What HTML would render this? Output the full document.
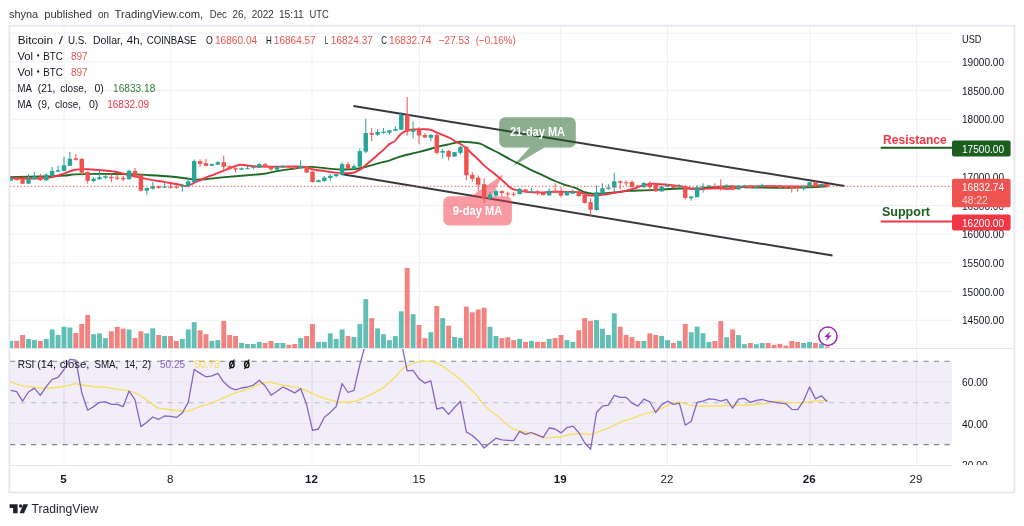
<!DOCTYPE html>
<html><head><meta charset="utf-8"><title>BTCUSD chart</title>
<style>html,body{margin:0;padding:0;background:#fff;}body{width:1024px;height:526px;overflow:hidden;font-family:"Liberation Sans",sans-serif;}</style>
</head><body>
<svg width="1024" height="526" viewBox="0 0 1024 526" font-family="Liberation Sans, sans-serif" style="display:block;will-change:transform">
<rect x="0" y="0" width="1024" height="526" fill="#ffffff"/>
<line x1="64" y1="26" x2="64" y2="465" stroke="#eef0f5" stroke-width="1"/>
<line x1="170.75" y1="26" x2="170.75" y2="465" stroke="#eef0f5" stroke-width="1"/>
<line x1="312" y1="26" x2="312" y2="465" stroke="#eef0f5" stroke-width="1"/>
<line x1="419.5" y1="26" x2="419.5" y2="465" stroke="#eef0f5" stroke-width="1"/>
<line x1="560.75" y1="26" x2="560.75" y2="465" stroke="#eef0f5" stroke-width="1"/>
<line x1="667.5" y1="26" x2="667.5" y2="465" stroke="#eef0f5" stroke-width="1"/>
<line x1="809.75" y1="26" x2="809.75" y2="465" stroke="#eef0f5" stroke-width="1"/>
<line x1="916.5" y1="26" x2="916.5" y2="465" stroke="#eef0f5" stroke-width="1"/>
<line x1="10" y1="320.2" x2="952" y2="320.2" stroke="#eef0f5" stroke-width="1"/>
<line x1="10" y1="291.5" x2="952" y2="291.5" stroke="#eef0f5" stroke-width="1"/>
<line x1="10" y1="262.8" x2="952" y2="262.8" stroke="#eef0f5" stroke-width="1"/>
<line x1="10" y1="234.1" x2="952" y2="234.1" stroke="#eef0f5" stroke-width="1"/>
<line x1="10" y1="205.4" x2="952" y2="205.4" stroke="#eef0f5" stroke-width="1"/>
<line x1="10" y1="176.7" x2="952" y2="176.7" stroke="#eef0f5" stroke-width="1"/>
<line x1="10" y1="148.0" x2="952" y2="148.0" stroke="#eef0f5" stroke-width="1"/>
<line x1="10" y1="119.3" x2="952" y2="119.3" stroke="#eef0f5" stroke-width="1"/>
<line x1="10" y1="90.6" x2="952" y2="90.6" stroke="#eef0f5" stroke-width="1"/>
<line x1="10" y1="61.9" x2="952" y2="61.9" stroke="#eef0f5" stroke-width="1"/>
<line x1="10" y1="33.2" x2="952" y2="33.2" stroke="#eef0f5" stroke-width="1"/>
<rect x="10" y="361.3" width="942" height="83.3" fill="#7e57c2" fill-opacity="0.1"/>
<line x1="10" y1="382.1" x2="952" y2="382.1" stroke="#e6e4f0" stroke-width="1"/>
<line x1="10" y1="423.5" x2="952" y2="423.5" stroke="#e6e4f0" stroke-width="1"/>
<line x1="64" y1="361.3" x2="64" y2="444.6" stroke="#e2e0ee" stroke-width="1"/>
<line x1="170.75" y1="361.3" x2="170.75" y2="444.6" stroke="#e2e0ee" stroke-width="1"/>
<line x1="312" y1="361.3" x2="312" y2="444.6" stroke="#e2e0ee" stroke-width="1"/>
<line x1="419.5" y1="361.3" x2="419.5" y2="444.6" stroke="#e2e0ee" stroke-width="1"/>
<line x1="560.75" y1="361.3" x2="560.75" y2="444.6" stroke="#e2e0ee" stroke-width="1"/>
<line x1="667.5" y1="361.3" x2="667.5" y2="444.6" stroke="#e2e0ee" stroke-width="1"/>
<line x1="809.75" y1="361.3" x2="809.75" y2="444.6" stroke="#e2e0ee" stroke-width="1"/>
<line x1="916.5" y1="361.3" x2="916.5" y2="444.6" stroke="#e2e0ee" stroke-width="1"/>
<line x1="10" y1="361.3" x2="952" y2="361.3" stroke="#82858f" stroke-width="1.1" stroke-dasharray="5.2,5.3"/>
<line x1="10" y1="402.8" x2="952" y2="402.8" stroke="#b9bcc5" stroke-width="1.1" stroke-dasharray="5.2,5.3"/>
<line x1="10" y1="444.6" x2="952" y2="444.6" stroke="#82858f" stroke-width="1.1" stroke-dasharray="5.2,5.3"/>
<clipPath id="cm"><rect x="10" y="26" width="942" height="322.5"/></clipPath>
<clipPath id="cr"><rect x="10" y="349" width="942" height="116.5"/></clipPath>
<g clip-path="url(#cm)">
<rect x="8.30" y="340.9" width="4.9" height="7.4" fill="#26a69a" fill-opacity="0.72"/>
<rect x="14.21" y="340.9" width="4.9" height="7.4" fill="#ef5350" fill-opacity="0.72"/>
<rect x="20.13" y="335" width="4.9" height="13.3" fill="#ef5350" fill-opacity="0.72"/>
<rect x="26.05" y="338.9" width="4.9" height="9.4" fill="#26a69a" fill-opacity="0.72"/>
<rect x="31.96" y="340.1" width="4.9" height="8.2" fill="#26a69a" fill-opacity="0.72"/>
<rect x="37.88" y="340.9" width="4.9" height="7.4" fill="#ef5350" fill-opacity="0.72"/>
<rect x="43.80" y="338.9" width="4.9" height="9.4" fill="#26a69a" fill-opacity="0.72"/>
<rect x="49.72" y="329.5" width="4.9" height="18.8" fill="#26a69a" fill-opacity="0.72"/>
<rect x="55.63" y="335" width="4.9" height="13.3" fill="#26a69a" fill-opacity="0.72"/>
<rect x="61.55" y="326.8" width="4.9" height="21.5" fill="#26a69a" fill-opacity="0.72"/>
<rect x="67.47" y="327.5" width="4.9" height="20.8" fill="#26a69a" fill-opacity="0.72"/>
<rect x="73.38" y="333" width="4.9" height="15.3" fill="#ef5350" fill-opacity="0.72"/>
<rect x="79.30" y="324" width="4.9" height="24.3" fill="#ef5350" fill-opacity="0.72"/>
<rect x="85.22" y="315" width="4.9" height="33.3" fill="#ef5350" fill-opacity="0.72"/>
<rect x="91.14" y="334.2" width="4.9" height="14.1" fill="#26a69a" fill-opacity="0.72"/>
<rect x="97.05" y="333.4" width="4.9" height="14.9" fill="#26a69a" fill-opacity="0.72"/>
<rect x="102.97" y="338.1" width="4.9" height="10.2" fill="#26a69a" fill-opacity="0.72"/>
<rect x="108.89" y="331.3" width="4.9" height="17.0" fill="#ef5350" fill-opacity="0.72"/>
<rect x="114.80" y="326.8" width="4.9" height="21.5" fill="#ef5350" fill-opacity="0.72"/>
<rect x="120.72" y="328.7" width="4.9" height="19.6" fill="#ef5350" fill-opacity="0.72"/>
<rect x="126.64" y="329.5" width="4.9" height="18.8" fill="#26a69a" fill-opacity="0.72"/>
<rect x="132.55" y="338.1" width="4.9" height="10.2" fill="#ef5350" fill-opacity="0.72"/>
<rect x="138.47" y="331.3" width="4.9" height="17.0" fill="#ef5350" fill-opacity="0.72"/>
<rect x="144.39" y="333.4" width="4.9" height="14.9" fill="#26a69a" fill-opacity="0.72"/>
<rect x="150.31" y="328.3" width="4.9" height="20.0" fill="#26a69a" fill-opacity="0.72"/>
<rect x="156.22" y="335" width="4.9" height="13.3" fill="#ef5350" fill-opacity="0.72"/>
<rect x="162.14" y="336" width="4.9" height="12.3" fill="#26a69a" fill-opacity="0.72"/>
<rect x="168.06" y="336" width="4.9" height="12.3" fill="#ef5350" fill-opacity="0.72"/>
<rect x="173.97" y="340.9" width="4.9" height="7.4" fill="#ef5350" fill-opacity="0.72"/>
<rect x="179.89" y="338.9" width="4.9" height="9.4" fill="#26a69a" fill-opacity="0.72"/>
<rect x="185.81" y="329.5" width="4.9" height="18.8" fill="#26a69a" fill-opacity="0.72"/>
<rect x="191.72" y="322.1" width="4.9" height="26.2" fill="#26a69a" fill-opacity="0.72"/>
<rect x="197.64" y="330.3" width="4.9" height="18.0" fill="#ef5350" fill-opacity="0.72"/>
<rect x="203.56" y="334.2" width="4.9" height="14.1" fill="#ef5350" fill-opacity="0.72"/>
<rect x="209.47" y="340.9" width="4.9" height="7.4" fill="#26a69a" fill-opacity="0.72"/>
<rect x="215.39" y="340.1" width="4.9" height="8.2" fill="#26a69a" fill-opacity="0.72"/>
<rect x="221.31" y="320.9" width="4.9" height="27.4" fill="#ef5350" fill-opacity="0.72"/>
<rect x="227.23" y="335" width="4.9" height="13.3" fill="#ef5350" fill-opacity="0.72"/>
<rect x="233.14" y="336" width="4.9" height="12.3" fill="#ef5350" fill-opacity="0.72"/>
<rect x="239.06" y="343" width="4.9" height="5.3" fill="#26a69a" fill-opacity="0.72"/>
<rect x="244.98" y="344" width="4.9" height="4.3" fill="#26a69a" fill-opacity="0.72"/>
<rect x="250.89" y="344" width="4.9" height="4.3" fill="#26a69a" fill-opacity="0.72"/>
<rect x="256.81" y="341.9" width="4.9" height="6.4" fill="#26a69a" fill-opacity="0.72"/>
<rect x="262.73" y="343" width="4.9" height="5.3" fill="#ef5350" fill-opacity="0.72"/>
<rect x="268.65" y="340.9" width="4.9" height="7.4" fill="#ef5350" fill-opacity="0.72"/>
<rect x="274.56" y="343" width="4.9" height="5.3" fill="#26a69a" fill-opacity="0.72"/>
<rect x="280.48" y="343" width="4.9" height="5.3" fill="#26a69a" fill-opacity="0.72"/>
<rect x="286.40" y="344.8" width="4.9" height="3.5" fill="#ef5350" fill-opacity="0.72"/>
<rect x="292.31" y="344" width="4.9" height="4.3" fill="#ef5350" fill-opacity="0.72"/>
<rect x="298.23" y="338.1" width="4.9" height="10.2" fill="#26a69a" fill-opacity="0.72"/>
<rect x="304.15" y="336" width="4.9" height="12.3" fill="#ef5350" fill-opacity="0.72"/>
<rect x="310.06" y="324" width="4.9" height="24.3" fill="#ef5350" fill-opacity="0.72"/>
<rect x="315.98" y="341.9" width="4.9" height="6.4" fill="#26a69a" fill-opacity="0.72"/>
<rect x="321.90" y="341.9" width="4.9" height="6.4" fill="#26a69a" fill-opacity="0.72"/>
<rect x="327.81" y="333.4" width="4.9" height="14.9" fill="#26a69a" fill-opacity="0.72"/>
<rect x="333.73" y="338.9" width="4.9" height="9.4" fill="#26a69a" fill-opacity="0.72"/>
<rect x="339.65" y="329.5" width="4.9" height="18.8" fill="#26a69a" fill-opacity="0.72"/>
<rect x="345.57" y="336" width="4.9" height="12.3" fill="#ef5350" fill-opacity="0.72"/>
<rect x="351.48" y="337.1" width="4.9" height="11.2" fill="#26a69a" fill-opacity="0.72"/>
<rect x="357.40" y="324" width="4.9" height="24.3" fill="#26a69a" fill-opacity="0.72"/>
<rect x="363.32" y="299.1" width="4.9" height="49.2" fill="#26a69a" fill-opacity="0.72"/>
<rect x="369.23" y="318.1" width="4.9" height="30.2" fill="#ef5350" fill-opacity="0.72"/>
<rect x="375.15" y="328.4" width="4.9" height="19.9" fill="#26a69a" fill-opacity="0.72"/>
<rect x="381.07" y="334.2" width="4.9" height="14.1" fill="#26a69a" fill-opacity="0.72"/>
<rect x="386.99" y="340.2" width="4.9" height="8.1" fill="#26a69a" fill-opacity="0.72"/>
<rect x="392.90" y="336.1" width="4.9" height="12.2" fill="#26a69a" fill-opacity="0.72"/>
<rect x="398.82" y="311.3" width="4.9" height="37.0" fill="#26a69a" fill-opacity="0.72"/>
<rect x="404.74" y="268" width="4.9" height="80.3" fill="#ef5350" fill-opacity="0.72"/>
<rect x="410.65" y="314.2" width="4.9" height="34.1" fill="#26a69a" fill-opacity="0.72"/>
<rect x="416.57" y="325" width="4.9" height="23.3" fill="#ef5350" fill-opacity="0.72"/>
<rect x="422.49" y="338.2" width="4.9" height="10.1" fill="#ef5350" fill-opacity="0.72"/>
<rect x="428.40" y="332.2" width="4.9" height="16.1" fill="#26a69a" fill-opacity="0.72"/>
<rect x="434.32" y="306" width="4.9" height="42.3" fill="#ef5350" fill-opacity="0.72"/>
<rect x="440.24" y="318.1" width="4.9" height="30.2" fill="#26a69a" fill-opacity="0.72"/>
<rect x="446.15" y="325.7" width="4.9" height="22.6" fill="#ef5350" fill-opacity="0.72"/>
<rect x="452.07" y="337" width="4.9" height="11.3" fill="#26a69a" fill-opacity="0.72"/>
<rect x="457.99" y="337.8" width="4.9" height="10.5" fill="#26a69a" fill-opacity="0.72"/>
<rect x="463.91" y="306.7" width="4.9" height="41.6" fill="#ef5350" fill-opacity="0.72"/>
<rect x="469.82" y="312.3" width="4.9" height="36.0" fill="#ef5350" fill-opacity="0.72"/>
<rect x="475.74" y="309.5" width="4.9" height="38.8" fill="#ef5350" fill-opacity="0.72"/>
<rect x="481.66" y="307.7" width="4.9" height="40.6" fill="#ef5350" fill-opacity="0.72"/>
<rect x="487.57" y="326.8" width="4.9" height="21.5" fill="#26a69a" fill-opacity="0.72"/>
<rect x="493.49" y="336" width="4.9" height="12.3" fill="#26a69a" fill-opacity="0.72"/>
<rect x="499.41" y="338.1" width="4.9" height="10.2" fill="#ef5350" fill-opacity="0.72"/>
<rect x="505.32" y="337.2" width="4.9" height="11.1" fill="#ef5350" fill-opacity="0.72"/>
<rect x="511.24" y="340.1" width="4.9" height="8.2" fill="#ef5350" fill-opacity="0.72"/>
<rect x="517.16" y="338.9" width="4.9" height="9.4" fill="#26a69a" fill-opacity="0.72"/>
<rect x="523.08" y="341.9" width="4.9" height="6.4" fill="#ef5350" fill-opacity="0.72"/>
<rect x="528.99" y="340.9" width="4.9" height="7.4" fill="#26a69a" fill-opacity="0.72"/>
<rect x="534.91" y="341.9" width="4.9" height="6.4" fill="#ef5350" fill-opacity="0.72"/>
<rect x="540.83" y="341.9" width="4.9" height="6.4" fill="#ef5350" fill-opacity="0.72"/>
<rect x="546.74" y="338.9" width="4.9" height="9.4" fill="#26a69a" fill-opacity="0.72"/>
<rect x="552.66" y="338.1" width="4.9" height="10.2" fill="#ef5350" fill-opacity="0.72"/>
<rect x="558.58" y="335" width="4.9" height="13.3" fill="#ef5350" fill-opacity="0.72"/>
<rect x="564.49" y="340.1" width="4.9" height="8.2" fill="#26a69a" fill-opacity="0.72"/>
<rect x="570.41" y="341.9" width="4.9" height="6.4" fill="#26a69a" fill-opacity="0.72"/>
<rect x="576.33" y="330.3" width="4.9" height="18.0" fill="#ef5350" fill-opacity="0.72"/>
<rect x="582.25" y="318.1" width="4.9" height="30.2" fill="#ef5350" fill-opacity="0.72"/>
<rect x="588.16" y="320.9" width="4.9" height="27.4" fill="#ef5350" fill-opacity="0.72"/>
<rect x="594.08" y="320.1" width="4.9" height="28.2" fill="#26a69a" fill-opacity="0.72"/>
<rect x="600.00" y="328.7" width="4.9" height="19.6" fill="#26a69a" fill-opacity="0.72"/>
<rect x="605.91" y="335" width="4.9" height="13.3" fill="#26a69a" fill-opacity="0.72"/>
<rect x="611.83" y="313.3" width="4.9" height="35.0" fill="#26a69a" fill-opacity="0.72"/>
<rect x="617.75" y="326.8" width="4.9" height="21.5" fill="#ef5350" fill-opacity="0.72"/>
<rect x="623.66" y="335" width="4.9" height="13.3" fill="#ef5350" fill-opacity="0.72"/>
<rect x="629.58" y="337.2" width="4.9" height="11.1" fill="#ef5350" fill-opacity="0.72"/>
<rect x="635.50" y="340.9" width="4.9" height="7.4" fill="#ef5350" fill-opacity="0.72"/>
<rect x="641.42" y="340.9" width="4.9" height="7.4" fill="#26a69a" fill-opacity="0.72"/>
<rect x="647.33" y="333.4" width="4.9" height="14.9" fill="#ef5350" fill-opacity="0.72"/>
<rect x="653.25" y="335" width="4.9" height="13.3" fill="#ef5350" fill-opacity="0.72"/>
<rect x="659.17" y="336" width="4.9" height="12.3" fill="#26a69a" fill-opacity="0.72"/>
<rect x="665.08" y="340.1" width="4.9" height="8.2" fill="#26a69a" fill-opacity="0.72"/>
<rect x="671.00" y="343" width="4.9" height="5.3" fill="#ef5350" fill-opacity="0.72"/>
<rect x="676.92" y="340.9" width="4.9" height="7.4" fill="#26a69a" fill-opacity="0.72"/>
<rect x="682.83" y="324" width="4.9" height="24.3" fill="#ef5350" fill-opacity="0.72"/>
<rect x="688.75" y="332.2" width="4.9" height="16.1" fill="#26a69a" fill-opacity="0.72"/>
<rect x="694.67" y="326.7" width="4.9" height="21.6" fill="#26a69a" fill-opacity="0.72"/>
<rect x="700.59" y="333.2" width="4.9" height="15.1" fill="#26a69a" fill-opacity="0.72"/>
<rect x="706.50" y="342" width="4.9" height="6.3" fill="#26a69a" fill-opacity="0.72"/>
<rect x="712.42" y="341" width="4.9" height="7.3" fill="#ef5350" fill-opacity="0.72"/>
<rect x="718.34" y="321.1" width="4.9" height="27.2" fill="#ef5350" fill-opacity="0.72"/>
<rect x="724.25" y="337.2" width="4.9" height="11.1" fill="#26a69a" fill-opacity="0.72"/>
<rect x="730.17" y="329.5" width="4.9" height="18.8" fill="#ef5350" fill-opacity="0.72"/>
<rect x="736.09" y="335.1" width="4.9" height="13.2" fill="#26a69a" fill-opacity="0.72"/>
<rect x="742.00" y="344.2" width="4.9" height="4.1" fill="#26a69a" fill-opacity="0.72"/>
<rect x="747.92" y="343" width="4.9" height="5.3" fill="#ef5350" fill-opacity="0.72"/>
<rect x="753.84" y="344.2" width="4.9" height="4.1" fill="#26a69a" fill-opacity="0.72"/>
<rect x="759.76" y="343" width="4.9" height="5.3" fill="#26a69a" fill-opacity="0.72"/>
<rect x="765.67" y="343" width="4.9" height="5.3" fill="#ef5350" fill-opacity="0.72"/>
<rect x="771.59" y="344.9" width="4.9" height="3.4" fill="#ef5350" fill-opacity="0.72"/>
<rect x="777.51" y="343.9" width="4.9" height="4.4" fill="#ef5350" fill-opacity="0.72"/>
<rect x="783.42" y="345.7" width="4.9" height="2.6" fill="#ef5350" fill-opacity="0.72"/>
<rect x="789.34" y="341" width="4.9" height="7.3" fill="#ef5350" fill-opacity="0.72"/>
<rect x="795.26" y="342" width="4.9" height="6.3" fill="#ef5350" fill-opacity="0.72"/>
<rect x="801.17" y="343" width="4.9" height="5.3" fill="#26a69a" fill-opacity="0.72"/>
<rect x="807.09" y="342" width="4.9" height="6.3" fill="#26a69a" fill-opacity="0.72"/>
<rect x="813.01" y="343" width="4.9" height="5.3" fill="#ef5350" fill-opacity="0.72"/>
<rect x="818.93" y="343.9" width="4.9" height="4.4" fill="#26a69a" fill-opacity="0.72"/>
<rect x="824.84" y="346.2" width="4.9" height="2.1" fill="#ef5350" fill-opacity="0.5"/>
<line x1="353.4" y1="106.1" x2="844.5" y2="186" stroke="#38393d" stroke-width="2"/>
<line x1="341" y1="174" x2="832.5" y2="255.5" stroke="#38393d" stroke-width="2"/>
<g fill="#1b5e20" fill-opacity="0.5"><rect x="499.2" y="117.3" width="76.6" height="30.1" rx="6" ry="6"/><path d="M529.8,147.4 L544.4,147.4 L512.5,166.5 Z"/></g>
<g fill="#f23645" fill-opacity="0.5"><rect x="443.3" y="196.3" width="68.6" height="29.3" rx="6" ry="6"/><path d="M471.3,196.3 L491.6,196.3 L503.4,174.3 Z"/></g>
<path d="M10,177.1 C15.00,177.00 31.00,176.75 40,176.5 C49.00,176.25 58.17,175.95 64,175.6 C69.83,175.25 69.00,174.68 75,174.4 C81.00,174.12 90.83,173.93 100,173.9 C109.17,173.87 121.67,173.98 130,174.2 C138.33,174.42 143.33,174.82 150,175.2 C156.67,175.58 164.17,176.00 170,176.5 C175.83,177.00 180.83,177.68 185,178.2 C189.17,178.72 191.67,179.43 195,179.6 C198.33,179.77 200.00,179.62 205,179.2 C210.00,178.78 216.67,177.87 225,177.1 C233.33,176.33 248.33,175.18 255,174.6 C261.67,174.02 260.83,174.27 265,173.6 C269.17,172.93 275.00,171.45 280,170.6 C285.00,169.75 291.67,169.00 295,168.5 C298.33,168.00 297.17,167.87 300,167.6 C302.83,167.33 307.83,166.80 312,166.9 C316.17,167.00 320.33,167.78 325,168.2 C329.67,168.62 335.83,169.20 340,169.4 C344.17,169.60 346.67,169.60 350,169.4 C353.33,169.20 356.67,168.82 360,168.2 C363.33,167.58 366.67,166.58 370,165.7 C373.33,164.82 376.67,163.80 380,162.9 C383.33,162.00 386.67,161.35 390,160.3 C393.33,159.25 395.00,158.03 400,156.6 C405.00,155.17 413.33,153.43 420,151.7 C426.67,149.97 435.00,147.47 440,146.2 C445.00,144.93 446.67,144.83 450,144.1 C453.33,143.37 456.67,142.10 460,141.8 C463.33,141.50 466.67,142.00 470,142.3 C473.33,142.60 476.67,142.53 480,143.6 C483.33,144.67 486.67,147.02 490,148.7 C493.33,150.38 496.45,151.82 500,153.7 C503.55,155.58 507.27,157.88 511.3,160 C515.33,162.12 520.40,164.50 524.2,166.4 C528.00,168.30 530.82,169.83 534.1,171.4 C537.38,172.97 540.42,174.20 543.9,175.8 C547.38,177.40 551.52,179.50 555,181 C558.48,182.50 561.53,183.68 564.8,184.8 C568.07,185.92 571.32,186.47 574.6,187.7 C577.88,188.93 581.53,191.20 584.5,192.2 C587.47,193.20 589.77,193.45 592.4,193.7 C595.03,193.95 596.67,193.90 600.3,193.7 C603.93,193.50 609.42,192.97 614.2,192.5 C618.98,192.03 623.87,191.25 629,190.9 C634.13,190.55 639.87,190.62 645,190.4 C650.13,190.18 654.05,189.92 659.8,189.6 C665.55,189.28 672.92,188.65 679.5,188.5 C686.08,188.35 694.38,188.87 699.3,188.7 C704.22,188.53 705.72,187.83 709,187.5 C712.28,187.17 714.67,186.85 719,186.7 C723.33,186.55 730.50,186.52 735,186.6 C739.50,186.68 741.83,187.03 746,187.2 C750.17,187.37 752.67,187.50 760,187.6 C767.33,187.70 781.67,187.87 790,187.8 C798.33,187.73 803.67,187.43 810,187.2 C816.33,186.97 825.00,186.53 828,186.4" fill="none" stroke="#1f6a25" stroke-width="1.9" stroke-linejoin="round"/>
<path d="M10,178.1 C15.00,178.15 33.00,178.57 40,178.4 C47.00,178.23 48.00,177.88 52,177.1 C56.00,176.32 60.17,174.93 64,173.7 C67.83,172.47 71.17,170.45 75,169.7 C78.83,168.95 82.83,169.13 87,169.2 C91.17,169.27 95.33,169.68 100,170.1 C104.67,170.52 110.83,171.02 115,171.7 C119.17,172.38 121.67,173.40 125,174.2 C128.33,175.00 130.83,175.60 135,176.5 C139.17,177.40 145.00,178.67 150,179.6 C155.00,180.53 160.00,181.23 165,182.1 C170.00,182.97 176.33,184.13 180,184.8 C183.67,185.47 185.00,186.23 187,186.1 C189.00,185.97 190.50,184.68 192,184 C193.50,183.32 193.83,183.00 196,182 C198.17,181.00 201.83,179.32 205,178 C208.17,176.68 211.67,175.42 215,174.1 C218.33,172.78 221.67,171.42 225,170.1 C228.33,168.78 232.33,167.10 235,166.2 C237.67,165.30 238.50,164.75 241,164.7 C243.50,164.65 246.83,165.60 250,165.9 C253.17,166.20 256.67,166.37 260,166.5 C263.33,166.63 264.17,166.70 270,166.7 C275.83,166.70 289.17,166.47 295,166.5 C300.83,166.53 302.17,166.45 305,166.9 C307.83,167.35 308.67,168.50 312,169.2 C315.33,169.90 321.17,170.53 325,171.1 C328.83,171.67 331.67,172.27 335,172.6 C338.33,172.93 342.00,173.07 345,173.1 C348.00,173.13 350.50,173.38 353,172.8 C355.50,172.22 358.00,170.78 360,169.6 C362.00,168.42 362.50,167.75 365,165.7 C367.50,163.65 371.67,160.18 375,157.3 C378.33,154.42 382.58,150.62 385,148.4 C387.42,146.18 387.92,145.17 389.5,144 C391.08,142.83 392.85,142.82 394.5,141.4 C396.15,139.98 397.77,137.12 399.4,135.5 C401.03,133.88 402.65,132.62 404.3,131.7 C405.95,130.78 407.65,130.38 409.3,130 C410.95,129.62 411.73,129.53 414.2,129.4 C416.67,129.27 421.30,129.12 424.1,129.2 C426.90,129.28 428.53,129.20 431,129.9 C433.47,130.60 435.73,132.05 438.9,133.4 C442.07,134.75 447.32,136.68 450,138 C452.68,139.32 453.33,140.33 455,141.3 C456.67,142.27 458.33,142.82 460,143.8 C461.67,144.78 463.33,145.88 465,147.2 C466.67,148.52 467.72,149.57 470,151.7 C472.28,153.83 476.27,157.63 478.7,160 C481.13,162.37 481.97,163.60 484.6,165.9 C487.23,168.20 491.20,171.08 494.5,173.8 C497.80,176.52 501.77,179.88 504.4,182.2 C507.03,184.52 508.65,186.47 510.3,187.7 C511.95,188.93 511.98,188.95 514.3,189.6 C516.62,190.25 520.90,191.13 524.2,191.6 C527.50,192.07 530.82,192.27 534.1,192.4 C537.38,192.53 540.42,192.52 543.9,192.4 C547.38,192.28 551.52,191.78 555,191.7 C558.48,191.62 560.70,191.82 564.8,191.9 C568.90,191.98 575.82,191.67 579.6,192.2 C583.38,192.73 585.03,194.53 587.5,195.1 C589.97,195.67 591.60,195.68 594.4,195.6 C597.20,195.52 601.00,195.08 604.3,194.6 C607.60,194.12 610.90,193.27 614.2,192.7 C617.50,192.13 620.82,191.87 624.1,191.2 C627.38,190.53 631.27,189.53 633.9,188.7 C636.53,187.87 638.05,186.73 639.9,186.2 C641.75,185.67 643.32,185.92 645,185.5 C646.68,185.08 647.53,183.92 650,183.7 C652.47,183.48 656.53,184.00 659.8,184.2 C663.07,184.40 666.32,184.62 669.6,184.9 C672.88,185.18 676.20,185.35 679.5,185.9 C682.80,186.45 686.10,187.65 689.4,188.2 C692.70,188.75 696.03,189.15 699.3,189.2 C702.57,189.25 705.72,188.67 709,188.5 C712.28,188.33 715.67,188.17 719,188.2 C722.33,188.23 725.83,188.77 729,188.7 C732.17,188.63 735.17,188.15 738,187.8 C740.83,187.45 742.33,186.87 746,186.6 C749.67,186.33 752.67,186.23 760,186.2 C767.33,186.17 782.50,186.37 790,186.4 C797.50,186.43 800.83,186.53 805,186.4 C809.17,186.27 811.17,185.80 815,185.6 C818.83,185.40 825.83,185.27 828,185.2" fill="none" stroke="#f23645" stroke-width="1.9" stroke-linejoin="round"/>
<line x1="10.75" y1="177.6" x2="10.75" y2="181" stroke="#26a69a" stroke-width="1"/>
<rect x="8.55" y="178.1" width="4.4" height="2.5" fill="#26a69a"/>
<line x1="16.66" y1="177.8" x2="16.66" y2="180.5" stroke="#ef5350" stroke-width="1"/>
<rect x="14.46" y="178.1" width="4.4" height="2.0" fill="#ef5350"/>
<line x1="22.58" y1="178.8" x2="22.58" y2="184" stroke="#ef5350" stroke-width="1"/>
<rect x="20.38" y="179.1" width="4.4" height="4.6" fill="#ef5350"/>
<line x1="28.50" y1="174.2" x2="28.50" y2="184" stroke="#26a69a" stroke-width="1"/>
<rect x="26.30" y="178.6" width="4.4" height="5.1" fill="#26a69a"/>
<line x1="34.41" y1="171.9" x2="34.41" y2="179.4" stroke="#26a69a" stroke-width="1"/>
<rect x="32.21" y="176.6" width="4.4" height="2.5" fill="#26a69a"/>
<line x1="40.33" y1="173.9" x2="40.33" y2="181.1" stroke="#ef5350" stroke-width="1"/>
<rect x="38.13" y="176.8" width="4.4" height="3.3" fill="#ef5350"/>
<line x1="46.25" y1="173.2" x2="46.25" y2="180.8" stroke="#26a69a" stroke-width="1"/>
<rect x="44.05" y="174.6" width="4.4" height="5.8" fill="#26a69a"/>
<line x1="52.17" y1="166.9" x2="52.17" y2="177.1" stroke="#26a69a" stroke-width="1"/>
<rect x="49.97" y="170.9" width="4.4" height="4.7" fill="#26a69a"/>
<line x1="58.08" y1="165.3" x2="58.08" y2="171.9" stroke="#26a69a" stroke-width="1"/>
<rect x="55.88" y="170.2" width="4.4" height="1.5" fill="#26a69a"/>
<line x1="64.00" y1="156.7" x2="64.00" y2="171.5" stroke="#26a69a" stroke-width="1"/>
<rect x="61.80" y="165.3" width="4.4" height="5.6" fill="#26a69a"/>
<line x1="69.92" y1="151.9" x2="69.92" y2="166" stroke="#26a69a" stroke-width="1"/>
<rect x="67.72" y="158.8" width="4.4" height="7.0" fill="#26a69a"/>
<line x1="75.83" y1="153.9" x2="75.83" y2="160.6" stroke="#ef5350" stroke-width="1"/>
<rect x="73.63" y="158.3" width="4.4" height="1.5" fill="#ef5350"/>
<line x1="81.75" y1="158.3" x2="81.75" y2="175.1" stroke="#ef5350" stroke-width="1"/>
<rect x="79.55" y="158.8" width="4.4" height="13.9" fill="#ef5350"/>
<line x1="87.67" y1="171.5" x2="87.67" y2="183.7" stroke="#ef5350" stroke-width="1"/>
<rect x="85.47" y="171.9" width="4.4" height="8.9" fill="#ef5350"/>
<line x1="93.59" y1="177.1" x2="93.59" y2="182.1" stroke="#26a69a" stroke-width="1"/>
<rect x="91.39" y="178.6" width="4.4" height="2.5" fill="#26a69a"/>
<line x1="99.50" y1="170.9" x2="99.50" y2="179.5" stroke="#26a69a" stroke-width="1"/>
<rect x="97.30" y="177.2" width="4.4" height="2.1" fill="#26a69a"/>
<line x1="105.42" y1="175.2" x2="105.42" y2="179.2" stroke="#26a69a" stroke-width="1"/>
<rect x="103.22" y="176.2" width="4.4" height="1.5" fill="#26a69a"/>
<line x1="111.34" y1="173.7" x2="111.34" y2="182.1" stroke="#ef5350" stroke-width="1"/>
<rect x="109.14" y="176.9" width="4.4" height="1.3" fill="#ef5350"/>
<line x1="117.25" y1="174.7" x2="117.25" y2="180.1" stroke="#ef5350" stroke-width="1"/>
<rect x="115.05" y="177.5" width="4.4" height="1.2" fill="#ef5350"/>
<line x1="123.17" y1="175.9" x2="123.17" y2="181.1" stroke="#ef5350" stroke-width="1"/>
<rect x="120.97" y="177.9" width="4.4" height="1.5" fill="#ef5350"/>
<line x1="129.09" y1="169.8" x2="129.09" y2="179.5" stroke="#26a69a" stroke-width="1"/>
<rect x="126.89" y="170.8" width="4.4" height="8.4" fill="#26a69a"/>
<line x1="135.00" y1="168" x2="135.00" y2="176.2" stroke="#ef5350" stroke-width="1"/>
<rect x="132.80" y="170.9" width="4.4" height="5.0" fill="#ef5350"/>
<line x1="140.92" y1="174.2" x2="140.92" y2="191.5" stroke="#ef5350" stroke-width="1"/>
<rect x="138.72" y="174.7" width="4.4" height="16.0" fill="#ef5350"/>
<line x1="146.84" y1="187.4" x2="146.84" y2="194.7" stroke="#26a69a" stroke-width="1"/>
<rect x="144.64" y="188" width="4.4" height="2.7" fill="#26a69a"/>
<line x1="152.75" y1="182.1" x2="152.75" y2="189.7" stroke="#26a69a" stroke-width="1"/>
<rect x="150.56" y="186.1" width="4.4" height="2.6" fill="#26a69a"/>
<line x1="158.67" y1="185.6" x2="158.67" y2="188.7" stroke="#ef5350" stroke-width="1"/>
<rect x="156.47" y="186.4" width="4.4" height="1.6" fill="#ef5350"/>
<line x1="164.59" y1="182.6" x2="164.59" y2="188" stroke="#26a69a" stroke-width="1"/>
<rect x="162.39" y="186.4" width="4.4" height="1.3" fill="#26a69a"/>
<line x1="170.51" y1="183.6" x2="170.51" y2="188.7" stroke="#ef5350" stroke-width="1"/>
<rect x="168.31" y="186.8" width="4.4" height="1.0" fill="#ef5350"/>
<line x1="176.42" y1="185.1" x2="176.42" y2="188.7" stroke="#ef5350" stroke-width="1"/>
<rect x="174.22" y="186.8" width="4.4" height="1.0" fill="#ef5350"/>
<line x1="182.34" y1="184.6" x2="182.34" y2="191.7" stroke="#26a69a" stroke-width="1"/>
<rect x="180.14" y="185.1" width="4.4" height="1.7" fill="#26a69a"/>
<line x1="188.26" y1="178.2" x2="188.26" y2="187.7" stroke="#26a69a" stroke-width="1"/>
<rect x="186.06" y="181.4" width="4.4" height="4.7" fill="#26a69a"/>
<line x1="194.17" y1="159.4" x2="194.17" y2="182.4" stroke="#26a69a" stroke-width="1"/>
<rect x="191.97" y="161.1" width="4.4" height="21.0" fill="#26a69a"/>
<line x1="200.09" y1="159.3" x2="200.09" y2="166.7" stroke="#ef5350" stroke-width="1"/>
<rect x="197.89" y="161.2" width="4.4" height="2.7" fill="#ef5350"/>
<line x1="206.01" y1="159" x2="206.01" y2="166.2" stroke="#ef5350" stroke-width="1"/>
<rect x="203.81" y="163.2" width="4.4" height="2.7" fill="#ef5350"/>
<line x1="211.92" y1="163.5" x2="211.92" y2="166.2" stroke="#26a69a" stroke-width="1"/>
<rect x="209.72" y="164.2" width="4.4" height="1.7" fill="#26a69a"/>
<line x1="217.84" y1="161.2" x2="217.84" y2="165" stroke="#26a69a" stroke-width="1"/>
<rect x="215.64" y="162.2" width="4.4" height="2.5" fill="#26a69a"/>
<line x1="223.76" y1="155.6" x2="223.76" y2="172.4" stroke="#ef5350" stroke-width="1"/>
<rect x="221.56" y="162.2" width="4.4" height="4.5" fill="#ef5350"/>
<line x1="229.68" y1="165.2" x2="229.68" y2="169.6" stroke="#ef5350" stroke-width="1"/>
<rect x="227.48" y="166.2" width="4.4" height="3.0" fill="#ef5350"/>
<line x1="235.59" y1="167.2" x2="235.59" y2="172.4" stroke="#ef5350" stroke-width="1"/>
<rect x="233.39" y="168.2" width="4.4" height="1.4" fill="#ef5350"/>
<line x1="241.51" y1="167.5" x2="241.51" y2="169.9" stroke="#26a69a" stroke-width="1"/>
<rect x="239.31" y="168.2" width="4.4" height="1.4" fill="#26a69a"/>
<line x1="247.43" y1="166.2" x2="247.43" y2="169.2" stroke="#26a69a" stroke-width="1"/>
<rect x="245.23" y="168.2" width="4.4" height="1.0" fill="#26a69a"/>
<line x1="253.34" y1="165.9" x2="253.34" y2="169.6" stroke="#26a69a" stroke-width="1"/>
<rect x="251.14" y="166.9" width="4.4" height="1.0" fill="#26a69a"/>
<line x1="259.26" y1="163.2" x2="259.26" y2="168" stroke="#26a69a" stroke-width="1"/>
<rect x="257.06" y="164.2" width="4.4" height="3.5" fill="#26a69a"/>
<line x1="265.18" y1="162.9" x2="265.18" y2="167.2" stroke="#ef5350" stroke-width="1"/>
<rect x="262.98" y="164.2" width="4.4" height="2.7" fill="#ef5350"/>
<line x1="271.10" y1="165.9" x2="271.10" y2="170.6" stroke="#ef5350" stroke-width="1"/>
<rect x="268.90" y="166.5" width="4.4" height="2.9" fill="#ef5350"/>
<line x1="277.01" y1="166.2" x2="277.01" y2="169.9" stroke="#26a69a" stroke-width="1"/>
<rect x="274.81" y="166.9" width="4.4" height="2.7" fill="#26a69a"/>
<line x1="282.93" y1="164.7" x2="282.93" y2="167.8" stroke="#26a69a" stroke-width="1"/>
<rect x="280.73" y="165.9" width="4.4" height="1.6" fill="#26a69a"/>
<line x1="288.85" y1="165.9" x2="288.85" y2="168" stroke="#ef5350" stroke-width="1"/>
<rect x="286.65" y="166.2" width="4.4" height="1.5" fill="#ef5350"/>
<line x1="294.76" y1="165.9" x2="294.76" y2="169" stroke="#ef5350" stroke-width="1"/>
<rect x="292.56" y="166.2" width="4.4" height="2.5" fill="#ef5350"/>
<line x1="300.68" y1="160.3" x2="300.68" y2="168.5" stroke="#26a69a" stroke-width="1"/>
<rect x="298.48" y="166.2" width="4.4" height="2.0" fill="#26a69a"/>
<line x1="306.60" y1="165.9" x2="306.60" y2="172.9" stroke="#ef5350" stroke-width="1"/>
<rect x="304.40" y="166.2" width="4.4" height="6.4" fill="#ef5350"/>
<line x1="312.51" y1="171.1" x2="312.51" y2="182.7" stroke="#ef5350" stroke-width="1"/>
<rect x="310.31" y="171.6" width="4.4" height="10.4" fill="#ef5350"/>
<line x1="318.43" y1="179.5" x2="318.43" y2="182.3" stroke="#26a69a" stroke-width="1"/>
<rect x="316.23" y="180.3" width="4.4" height="1.7" fill="#26a69a"/>
<line x1="324.35" y1="175.8" x2="324.35" y2="182" stroke="#26a69a" stroke-width="1"/>
<rect x="322.15" y="177.5" width="4.4" height="3.5" fill="#26a69a"/>
<line x1="330.26" y1="174.1" x2="330.26" y2="180.7" stroke="#26a69a" stroke-width="1"/>
<rect x="328.06" y="175.8" width="4.4" height="2.2" fill="#26a69a"/>
<line x1="336.18" y1="173.8" x2="336.18" y2="177.4" stroke="#26a69a" stroke-width="1"/>
<rect x="333.98" y="174.1" width="4.4" height="2.0" fill="#26a69a"/>
<line x1="342.10" y1="162.2" x2="342.10" y2="174.9" stroke="#26a69a" stroke-width="1"/>
<rect x="339.90" y="164.2" width="4.4" height="10.4" fill="#26a69a"/>
<line x1="348.02" y1="162.2" x2="348.02" y2="169.6" stroke="#ef5350" stroke-width="1"/>
<rect x="345.82" y="164.2" width="4.4" height="4.7" fill="#ef5350"/>
<line x1="353.93" y1="164.2" x2="353.93" y2="170.1" stroke="#26a69a" stroke-width="1"/>
<rect x="351.73" y="166.2" width="4.4" height="2.7" fill="#26a69a"/>
<line x1="359.85" y1="148.1" x2="359.85" y2="167" stroke="#26a69a" stroke-width="1"/>
<rect x="357.65" y="151.1" width="4.4" height="15.6" fill="#26a69a"/>
<line x1="365.77" y1="118.7" x2="365.77" y2="153.3" stroke="#26a69a" stroke-width="1"/>
<rect x="363.57" y="133" width="4.4" height="18.7" fill="#26a69a"/>
<line x1="371.68" y1="128.1" x2="371.68" y2="141.2" stroke="#ef5350" stroke-width="1"/>
<rect x="369.48" y="133" width="4.4" height="1.7" fill="#ef5350"/>
<line x1="377.60" y1="129.1" x2="377.60" y2="135.7" stroke="#26a69a" stroke-width="1"/>
<rect x="375.40" y="132" width="4.4" height="2.7" fill="#26a69a"/>
<line x1="383.52" y1="128.1" x2="383.52" y2="133.7" stroke="#26a69a" stroke-width="1"/>
<rect x="381.32" y="131.7" width="4.4" height="1.3" fill="#26a69a"/>
<line x1="389.44" y1="130" x2="389.44" y2="134.7" stroke="#26a69a" stroke-width="1"/>
<rect x="387.24" y="130.3" width="4.4" height="2.4" fill="#26a69a"/>
<line x1="395.35" y1="126.1" x2="395.35" y2="131" stroke="#26a69a" stroke-width="1"/>
<rect x="393.15" y="129.1" width="4.4" height="1.6" fill="#26a69a"/>
<line x1="401.27" y1="112" x2="401.27" y2="130" stroke="#26a69a" stroke-width="1"/>
<rect x="399.07" y="114.9" width="4.4" height="14.8" fill="#26a69a"/>
<line x1="407.19" y1="96.9" x2="407.19" y2="135.5" stroke="#ef5350" stroke-width="1"/>
<rect x="404.99" y="114.9" width="4.4" height="16.6" fill="#ef5350"/>
<line x1="413.10" y1="121.4" x2="413.10" y2="138.4" stroke="#26a69a" stroke-width="1"/>
<rect x="410.90" y="130" width="4.4" height="1.8" fill="#26a69a"/>
<line x1="419.02" y1="127.1" x2="419.02" y2="144.3" stroke="#ef5350" stroke-width="1"/>
<rect x="416.82" y="129.3" width="4.4" height="6.2" fill="#ef5350"/>
<line x1="424.94" y1="133" x2="424.94" y2="137.8" stroke="#ef5350" stroke-width="1"/>
<rect x="422.74" y="135" width="4.4" height="2.5" fill="#ef5350"/>
<line x1="430.85" y1="134" x2="430.85" y2="141.2" stroke="#26a69a" stroke-width="1"/>
<rect x="428.65" y="135" width="4.4" height="2.7" fill="#26a69a"/>
<line x1="436.77" y1="133.6" x2="436.77" y2="154.6" stroke="#ef5350" stroke-width="1"/>
<rect x="434.57" y="135" width="4.4" height="17.9" fill="#ef5350"/>
<line x1="442.69" y1="148.9" x2="442.69" y2="158.6" stroke="#26a69a" stroke-width="1"/>
<rect x="440.49" y="150.9" width="4.4" height="1.8" fill="#26a69a"/>
<line x1="448.60" y1="149.9" x2="448.60" y2="160.4" stroke="#ef5350" stroke-width="1"/>
<rect x="446.40" y="150.9" width="4.4" height="5.9" fill="#ef5350"/>
<line x1="454.52" y1="152" x2="454.52" y2="156.9" stroke="#26a69a" stroke-width="1"/>
<rect x="452.32" y="152.2" width="4.4" height="4.4" fill="#26a69a"/>
<line x1="460.44" y1="145.9" x2="460.44" y2="154.6" stroke="#26a69a" stroke-width="1"/>
<rect x="458.24" y="146.9" width="4.4" height="6.0" fill="#26a69a"/>
<line x1="466.36" y1="145.9" x2="466.36" y2="180.3" stroke="#ef5350" stroke-width="1"/>
<rect x="464.16" y="146.9" width="4.4" height="28.4" fill="#ef5350"/>
<line x1="472.27" y1="171.9" x2="472.27" y2="181.9" stroke="#ef5350" stroke-width="1"/>
<rect x="470.07" y="174.8" width="4.4" height="4.0" fill="#ef5350"/>
<line x1="478.19" y1="175.5" x2="478.19" y2="191.4" stroke="#ef5350" stroke-width="1"/>
<rect x="475.99" y="177.6" width="4.4" height="7.1" fill="#ef5350"/>
<line x1="484.11" y1="178.3" x2="484.11" y2="202.7" stroke="#ef5350" stroke-width="1"/>
<rect x="481.91" y="184.2" width="4.4" height="13.8" fill="#ef5350"/>
<line x1="490.02" y1="192.1" x2="490.02" y2="200.3" stroke="#26a69a" stroke-width="1"/>
<rect x="487.82" y="194.6" width="4.4" height="3.9" fill="#26a69a"/>
<line x1="495.94" y1="189.2" x2="495.94" y2="196.8" stroke="#26a69a" stroke-width="1"/>
<rect x="493.74" y="191.1" width="4.4" height="4.5" fill="#26a69a"/>
<line x1="501.86" y1="190.4" x2="501.86" y2="196.1" stroke="#ef5350" stroke-width="1"/>
<rect x="499.66" y="191.1" width="4.4" height="2.0" fill="#ef5350"/>
<line x1="507.77" y1="191.8" x2="507.77" y2="196.8" stroke="#ef5350" stroke-width="1"/>
<rect x="505.57" y="193.4" width="4.4" height="1.0" fill="#ef5350"/>
<line x1="513.69" y1="191.8" x2="513.69" y2="196.4" stroke="#ef5350" stroke-width="1"/>
<rect x="511.49" y="193.8" width="4.4" height="1.0" fill="#ef5350"/>
<line x1="519.61" y1="187.9" x2="519.61" y2="194.4" stroke="#26a69a" stroke-width="1"/>
<rect x="517.41" y="188.9" width="4.4" height="5.2" fill="#26a69a"/>
<line x1="525.53" y1="189" x2="525.53" y2="192.4" stroke="#ef5350" stroke-width="1"/>
<rect x="523.33" y="189.4" width="4.4" height="2.7" fill="#ef5350"/>
<line x1="531.44" y1="187.9" x2="531.44" y2="193.1" stroke="#26a69a" stroke-width="1"/>
<rect x="529.24" y="191.1" width="4.4" height="1.0" fill="#26a69a"/>
<line x1="537.36" y1="190.4" x2="537.36" y2="195.4" stroke="#ef5350" stroke-width="1"/>
<rect x="535.16" y="191.4" width="4.4" height="1.7" fill="#ef5350"/>
<line x1="543.28" y1="192.3" x2="543.28" y2="195.4" stroke="#ef5350" stroke-width="1"/>
<rect x="541.08" y="192.6" width="4.4" height="2.5" fill="#ef5350"/>
<line x1="549.19" y1="188.2" x2="549.19" y2="195.7" stroke="#26a69a" stroke-width="1"/>
<rect x="546.99" y="190.8" width="4.4" height="4.6" fill="#26a69a"/>
<line x1="555.11" y1="183.3" x2="555.11" y2="193" stroke="#ef5350" stroke-width="1"/>
<rect x="552.91" y="190.9" width="4.4" height="1.8" fill="#ef5350"/>
<line x1="561.03" y1="187.2" x2="561.03" y2="197.4" stroke="#ef5350" stroke-width="1"/>
<rect x="558.83" y="191.5" width="4.4" height="4.1" fill="#ef5350"/>
<line x1="566.94" y1="190.9" x2="566.94" y2="195.7" stroke="#26a69a" stroke-width="1"/>
<rect x="564.74" y="191.9" width="4.4" height="3.5" fill="#26a69a"/>
<line x1="572.86" y1="189.2" x2="572.86" y2="194" stroke="#26a69a" stroke-width="1"/>
<rect x="570.66" y="191.9" width="4.4" height="1.8" fill="#26a69a"/>
<line x1="578.78" y1="190.9" x2="578.78" y2="196.4" stroke="#ef5350" stroke-width="1"/>
<rect x="576.58" y="191.9" width="4.4" height="4.2" fill="#ef5350"/>
<line x1="584.70" y1="194.3" x2="584.70" y2="203.7" stroke="#ef5350" stroke-width="1"/>
<rect x="582.50" y="194.6" width="4.4" height="8.4" fill="#ef5350"/>
<line x1="590.61" y1="198.1" x2="590.61" y2="217" stroke="#ef5350" stroke-width="1"/>
<rect x="588.41" y="202.1" width="4.4" height="7.6" fill="#ef5350"/>
<line x1="596.53" y1="185.3" x2="596.53" y2="210.7" stroke="#26a69a" stroke-width="1"/>
<rect x="594.33" y="192.2" width="4.4" height="17.8" fill="#26a69a"/>
<line x1="602.45" y1="183.3" x2="602.45" y2="194.6" stroke="#26a69a" stroke-width="1"/>
<rect x="600.25" y="188.2" width="4.4" height="5.5" fill="#26a69a"/>
<line x1="608.36" y1="184.3" x2="608.36" y2="189.7" stroke="#26a69a" stroke-width="1"/>
<rect x="606.16" y="187.5" width="4.4" height="1.4" fill="#26a69a"/>
<line x1="614.28" y1="172.9" x2="614.28" y2="192.2" stroke="#26a69a" stroke-width="1"/>
<rect x="612.08" y="181.3" width="4.4" height="6.2" fill="#26a69a"/>
<line x1="620.20" y1="180.3" x2="620.20" y2="189.7" stroke="#ef5350" stroke-width="1"/>
<rect x="618.00" y="181.3" width="4.4" height="1.5" fill="#ef5350"/>
<line x1="626.12" y1="180.3" x2="626.12" y2="185.8" stroke="#ef5350" stroke-width="1"/>
<rect x="623.91" y="182.3" width="4.4" height="1.0" fill="#ef5350"/>
<line x1="632.03" y1="180.3" x2="632.03" y2="187.7" stroke="#ef5350" stroke-width="1"/>
<rect x="629.83" y="182" width="4.4" height="4.9" fill="#ef5350"/>
<line x1="637.95" y1="185.3" x2="637.95" y2="188" stroke="#ef5350" stroke-width="1"/>
<rect x="635.75" y="185.6" width="4.4" height="2.1" fill="#ef5350"/>
<line x1="643.87" y1="182" x2="643.87" y2="187.6" stroke="#26a69a" stroke-width="1"/>
<rect x="641.67" y="183" width="4.4" height="4.3" fill="#26a69a"/>
<line x1="649.78" y1="181.2" x2="649.78" y2="191.6" stroke="#ef5350" stroke-width="1"/>
<rect x="647.58" y="183.7" width="4.4" height="3.5" fill="#ef5350"/>
<line x1="655.70" y1="184.4" x2="655.70" y2="191.7" stroke="#ef5350" stroke-width="1"/>
<rect x="653.50" y="184.7" width="4.4" height="6.7" fill="#ef5350"/>
<line x1="661.62" y1="186.2" x2="661.62" y2="191.7" stroke="#26a69a" stroke-width="1"/>
<rect x="659.42" y="186.5" width="4.4" height="4.9" fill="#26a69a"/>
<line x1="667.53" y1="184.2" x2="667.53" y2="187" stroke="#26a69a" stroke-width="1"/>
<rect x="665.33" y="185.2" width="4.4" height="1.5" fill="#26a69a"/>
<line x1="673.45" y1="184.9" x2="673.45" y2="188" stroke="#ef5350" stroke-width="1"/>
<rect x="671.25" y="185.2" width="4.4" height="2.5" fill="#ef5350"/>
<line x1="679.37" y1="184.2" x2="679.37" y2="187.7" stroke="#26a69a" stroke-width="1"/>
<rect x="677.17" y="185.9" width="4.4" height="1.0" fill="#26a69a"/>
<line x1="685.28" y1="185.2" x2="685.28" y2="199.3" stroke="#ef5350" stroke-width="1"/>
<rect x="683.08" y="186.2" width="4.4" height="11.8" fill="#ef5350"/>
<line x1="691.20" y1="195.8" x2="691.20" y2="200.7" stroke="#26a69a" stroke-width="1"/>
<rect x="689.00" y="196.6" width="4.4" height="1.7" fill="#26a69a"/>
<line x1="697.12" y1="185.2" x2="697.12" y2="197.4" stroke="#26a69a" stroke-width="1"/>
<rect x="694.92" y="187.2" width="4.4" height="9.9" fill="#26a69a"/>
<line x1="703.04" y1="183.2" x2="703.04" y2="192.6" stroke="#26a69a" stroke-width="1"/>
<rect x="700.84" y="186.2" width="4.4" height="1.0" fill="#26a69a"/>
<line x1="708.95" y1="185.2" x2="708.95" y2="187.2" stroke="#26a69a" stroke-width="1"/>
<rect x="706.75" y="185.5" width="4.4" height="1.4" fill="#26a69a"/>
<line x1="714.87" y1="183.2" x2="714.87" y2="187" stroke="#ef5350" stroke-width="1"/>
<rect x="712.67" y="185.9" width="4.4" height="1.0" fill="#ef5350"/>
<line x1="720.79" y1="179.3" x2="720.79" y2="190.8" stroke="#ef5350" stroke-width="1"/>
<rect x="718.59" y="185.9" width="4.4" height="1.3" fill="#ef5350"/>
<line x1="726.70" y1="184.2" x2="726.70" y2="186.8" stroke="#26a69a" stroke-width="1"/>
<rect x="724.50" y="185.5" width="4.4" height="1.0" fill="#26a69a"/>
<line x1="732.62" y1="185.2" x2="732.62" y2="190.4" stroke="#ef5350" stroke-width="1"/>
<rect x="730.42" y="185.5" width="4.4" height="3.9" fill="#ef5350"/>
<line x1="738.54" y1="185.2" x2="738.54" y2="189.7" stroke="#26a69a" stroke-width="1"/>
<rect x="736.34" y="185.5" width="4.4" height="3.9" fill="#26a69a"/>
<line x1="744.45" y1="184.9" x2="744.45" y2="187.2" stroke="#26a69a" stroke-width="1"/>
<rect x="742.25" y="185.2" width="4.4" height="1.7" fill="#26a69a"/>
<line x1="750.37" y1="185.2" x2="750.37" y2="188" stroke="#ef5350" stroke-width="1"/>
<rect x="748.17" y="185.5" width="4.4" height="2.2" fill="#ef5350"/>
<line x1="756.29" y1="185.6" x2="756.29" y2="188" stroke="#26a69a" stroke-width="1"/>
<rect x="754.09" y="185.9" width="4.4" height="1.8" fill="#26a69a"/>
<line x1="762.21" y1="183.7" x2="762.21" y2="187.2" stroke="#26a69a" stroke-width="1"/>
<rect x="760.01" y="184.9" width="4.4" height="2.0" fill="#26a69a"/>
<line x1="768.12" y1="184.9" x2="768.12" y2="187.2" stroke="#ef5350" stroke-width="1"/>
<rect x="765.92" y="185.2" width="4.4" height="1.7" fill="#ef5350"/>
<line x1="774.04" y1="184.9" x2="774.04" y2="187.2" stroke="#ef5350" stroke-width="1"/>
<rect x="771.84" y="185.2" width="4.4" height="1.7" fill="#ef5350"/>
<line x1="779.96" y1="185.2" x2="779.96" y2="188" stroke="#ef5350" stroke-width="1"/>
<rect x="777.76" y="185.5" width="4.4" height="2.2" fill="#ef5350"/>
<line x1="785.87" y1="185.9" x2="785.87" y2="188.2" stroke="#ef5350" stroke-width="1"/>
<rect x="783.67" y="186.2" width="4.4" height="1.7" fill="#ef5350"/>
<line x1="791.79" y1="185.6" x2="791.79" y2="192.6" stroke="#ef5350" stroke-width="1"/>
<rect x="789.59" y="185.9" width="4.4" height="2.3" fill="#ef5350"/>
<line x1="797.71" y1="186.2" x2="797.71" y2="191.6" stroke="#ef5350" stroke-width="1"/>
<rect x="795.51" y="186.5" width="4.4" height="1.2" fill="#ef5350"/>
<line x1="803.62" y1="185.9" x2="803.62" y2="190.4" stroke="#26a69a" stroke-width="1"/>
<rect x="801.42" y="186.2" width="4.4" height="2.5" fill="#26a69a"/>
<line x1="809.54" y1="181.9" x2="809.54" y2="187.2" stroke="#26a69a" stroke-width="1"/>
<rect x="807.34" y="182.2" width="4.4" height="4.7" fill="#26a69a"/>
<line x1="815.46" y1="181.2" x2="815.46" y2="186.8" stroke="#ef5350" stroke-width="1"/>
<rect x="813.26" y="182.2" width="4.4" height="4.3" fill="#ef5350"/>
<line x1="821.38" y1="183.9" x2="821.38" y2="186.2" stroke="#26a69a" stroke-width="1"/>
<rect x="819.18" y="184.2" width="4.4" height="1.7" fill="#26a69a"/>
<line x1="827.29" y1="183.9" x2="827.29" y2="186.7" stroke="#ef5350" stroke-width="1"/>
<rect x="825.09" y="184.2" width="4.4" height="2.2" fill="#ef5350"/>
<line x1="10" y1="186.3" x2="952" y2="186.3" stroke="#ef5350" stroke-width="1" stroke-dasharray="1.3,2.2"/>
<text x="537.5" y="136" font-size="12" fill="#ffffff" textLength="55" lengthAdjust="spacingAndGlyphs" font-weight="bold" text-anchor="middle" >21-day MA</text>
<text x="477.6" y="214.6" font-size="12" fill="#ffffff" textLength="49.5" lengthAdjust="spacingAndGlyphs" font-weight="bold" text-anchor="middle" >9-day MA</text>
<line x1="880.7" y1="147.8" x2="952" y2="147.8" stroke="#1b5e20" stroke-width="2"/>
<line x1="880.7" y1="221.6" x2="952" y2="221.6" stroke="#f23645" stroke-width="2"/>
<text x="883" y="143.9" font-size="12.5" fill="#f23645" textLength="63.8" lengthAdjust="spacingAndGlyphs" font-weight="bold" >Resistance</text>
<text x="881.9" y="216.2" font-size="12.5" fill="#1b5e20" textLength="48.1" lengthAdjust="spacingAndGlyphs" font-weight="bold" >Support</text>
</g>
<line x1="10" y1="348.5" x2="1014" y2="348.5" stroke="#e4e6ee" stroke-width="1"/>
<line x1="10" y1="465.5" x2="952" y2="465.5" stroke="#e4e6ee" stroke-width="1"/>
<rect x="9.3" y="25.7" width="1005.1" height="466.7" fill="none" stroke="#e6e8f0" stroke-width="1.8"/>
<g clip-path="url(#cr)">
<path d="M9.9,381.3 C11.03,381.78 14.27,383.40 16.7,384.2 C19.13,385.00 21.57,385.62 24.5,386.1 C27.43,386.58 31.03,386.77 34.3,387.1 C37.57,387.43 40.85,388.00 44.1,388.1 C47.35,388.20 50.55,387.97 53.8,387.7 C57.05,387.43 60.98,386.92 63.6,386.5 C66.22,386.08 67.55,385.65 69.5,385.2 C71.45,384.75 73.35,383.87 75.3,383.8 C77.25,383.73 78.27,384.35 81.2,384.8 C84.13,385.25 89.00,386.12 92.9,386.5 C96.80,386.88 100.70,386.67 104.6,387.1 C108.50,387.53 112.40,388.52 116.3,389.1 C120.20,389.68 124.42,389.80 128,390.6 C131.58,391.40 134.53,392.20 137.8,393.9 C141.07,395.60 144.35,398.52 147.6,400.8 C150.85,403.08 154.05,406.20 157.3,407.6 C160.55,409.00 163.83,408.72 167.1,409.2 C170.37,409.68 173.80,410.12 176.9,410.5 C180.00,410.88 183.10,411.65 185.7,411.5 C188.30,411.35 190.12,410.43 192.5,409.6 C194.88,408.77 197.45,407.40 200,406.5 C202.55,405.60 205.20,405.00 207.8,404.2 C210.40,403.40 213.00,402.77 215.6,401.7 C218.20,400.63 220.78,399.02 223.4,397.8 C226.02,396.58 228.68,395.38 231.3,394.4 C233.92,393.42 236.50,392.73 239.1,391.9 C241.70,391.07 244.63,390.15 246.9,389.4 C249.17,388.65 250.75,388.22 252.7,387.4 C254.65,386.58 256.63,385.28 258.6,384.5 C260.57,383.72 262.55,383.07 264.5,382.7 C266.45,382.33 268.03,382.07 270.3,382.3 C272.57,382.53 275.17,383.48 278.1,384.1 C281.03,384.72 284.63,385.42 287.9,386 C291.17,386.58 294.77,386.85 297.7,387.6 C300.63,388.35 302.90,389.45 305.5,390.5 C308.10,391.55 310.70,392.78 313.3,393.9 C315.90,395.02 318.50,396.23 321.1,397.2 C323.70,398.17 326.30,398.95 328.9,399.7 C331.50,400.45 334.10,401.27 336.7,401.7 C339.30,402.13 341.90,402.30 344.5,402.3 C347.10,402.30 350.02,402.03 352.3,401.7 C354.58,401.37 355.92,401.12 358.2,400.3 C360.48,399.48 363.07,398.20 366,396.8 C368.93,395.40 372.87,393.47 375.8,391.9 C378.73,390.33 381.00,389.35 383.6,387.4 C386.20,385.45 389.50,381.88 391.4,380.2 C393.30,378.52 393.42,378.93 395,377.3 C396.58,375.67 398.95,372.20 400.9,370.4 C402.85,368.60 404.43,367.80 406.7,366.5 C408.97,365.20 411.90,363.42 414.5,362.6 C417.10,361.78 419.68,361.83 422.3,361.6 C424.92,361.37 427.58,360.87 430.2,361.2 C432.82,361.53 435.40,362.38 438,363.6 C440.60,364.82 443.20,366.72 445.8,368.5 C448.40,370.28 451.00,372.35 453.6,374.3 C456.20,376.25 458.80,377.92 461.4,380.2 C464.00,382.48 466.60,385.40 469.2,388 C471.80,390.60 474.72,393.20 477,395.8 C479.28,398.40 480.93,401.32 482.9,403.6 C484.87,405.88 486.52,407.55 488.8,409.5 C491.08,411.45 494.00,413.18 496.6,415.3 C499.20,417.42 501.80,420.02 504.4,422.2 C507.00,424.38 509.60,426.93 512.2,428.4 C514.80,429.87 517.40,430.32 520,431 C522.60,431.68 525.20,431.85 527.8,432.5 C530.40,433.15 533.00,434.02 535.6,434.9 C538.20,435.78 540.78,437.38 543.4,437.8 C546.02,438.22 548.37,437.57 551.3,437.4 C554.23,437.23 557.75,437.32 561,436.8 C564.25,436.28 567.53,434.82 570.8,434.3 C574.07,433.78 577.73,433.70 580.6,433.7 C583.47,433.70 585.93,434.22 588,434.3 C590.07,434.38 591.55,434.52 593,434.2 C594.45,433.88 594.78,433.15 596.7,432.4 C598.62,431.65 601.57,430.90 604.5,429.7 C607.43,428.50 611.03,426.70 614.3,425.2 C617.57,423.70 620.85,421.93 624.1,420.7 C627.35,419.47 630.55,418.90 633.8,417.8 C637.05,416.70 640.67,415.05 643.6,414.1 C646.53,413.15 648.80,412.85 651.4,412.1 C654.00,411.35 656.60,410.67 659.2,409.6 C661.80,408.53 664.72,406.78 667,405.7 C669.28,404.62 670.78,403.67 672.9,403.1 C675.02,402.53 677.42,402.10 679.7,402.3 C681.98,402.50 684.15,403.70 686.6,404.3 C689.05,404.90 691.15,405.57 694.4,405.9 C697.65,406.23 701.55,406.33 706.1,406.3 C710.65,406.27 715.83,405.90 721.7,405.7 C727.57,405.50 734.78,405.33 741.3,405.1 C747.82,404.87 755.93,404.85 760.8,404.3 C765.67,403.75 767.25,402.28 770.5,401.8 C773.75,401.32 777.30,401.30 780.3,401.4 C783.30,401.50 784.85,402.18 788.5,402.4 C792.15,402.62 798.20,402.90 802.2,402.7 C806.20,402.50 808.22,401.60 812.5,401.2 C816.78,400.80 825.33,400.45 827.9,400.3" fill="none" stroke="#f5e064" stroke-width="1.4" stroke-linejoin="round"/>
<path d="M10.75,390.4 L16.66,391.6 L22.58,401.2 L28.5,392 L34.41,388.1 L40.33,395.3 L46.25,386.7 L52.17,379.3 L58.08,377.3 L64.0,369.5 L69.92,359.4 L75.83,360.2 L81.75,392.6 L87.67,410.2 L93.59,406.6 L99.5,402.3 L105.42,401.8 L111.34,404.3 L117.25,404.3 L123.17,406.6 L129.09,391 L135.0,399.8 L140.92,426.6 L146.84,422.3 L152.75,417 L158.67,419.3 L164.59,416 L170.51,416.4 L176.42,417.4 L182.34,412.9 L188.26,402.3 L194.17,369.5 L200.09,373.4 L206.01,376.8 L211.92,375.9 L217.84,373.3 L223.76,382.1 L229.68,387.6 L235.59,389.9 L241.51,388 L247.43,387 L253.34,385.1 L259.26,380.2 L265.18,386 L271.1,395.2 L277.01,391.3 L282.93,387 L288.85,389.9 L294.76,392.9 L300.68,388.6 L306.6,404.6 L312.51,430.4 L318.43,429 L324.35,417.3 L330.26,412.4 L336.18,406.5 L342.1,383.5 L348.02,392.5 L353.93,390.3 L359.85,364.6 L365.77,343 L371.68,340 L377.6,340 L383.52,340 L389.44,340 L395.35,339 L401.27,342 L407.19,370.8 L413.1,370.4 L419.02,378.8 L424.94,383.1 L430.85,380.8 L436.77,409.1 L442.69,407.5 L448.6,414.4 L454.52,407.5 L460.44,401.3 L466.36,431.9 L472.27,435.5 L478.19,440.7 L484.11,448 L490.02,443.1 L495.94,438.2 L501.86,439.8 L507.77,440.3 L513.69,440.7 L519.61,431.4 L525.53,434.3 L531.44,432.5 L537.36,434.9 L543.28,437.4 L549.19,428 L555.11,429 L561.03,432.9 L566.94,427.6 L572.86,426.1 L578.78,432.5 L584.7,442.8 L590.61,449.2 L596.53,412.5 L602.45,406.1 L608.36,405.1 L614.28,395.3 L620.2,397.3 L626.12,397.3 L632.03,403.1 L637.95,406.1 L643.87,399.2 L649.78,401.8 L655.7,412.5 L661.62,404.7 L667.53,401.2 L673.45,404.3 L679.37,403.1 L685.28,425.2 L691.2,421.3 L697.12,402.3 L703.04,401.2 L708.95,398.8 L714.87,399.4 L720.79,401.2 L726.7,399.4 L732.62,408.2 L738.54,399.2 L744.45,398.4 L750.37,402.3 L756.29,400.4 L762.21,399.5 L768.12,401.2 L774.04,402.1 L779.96,403.1 L785.87,403.7 L791.79,409.4 L797.71,409.7 L803.62,400.8 L809.54,386.9 L815.46,398.9 L821.38,395.7 L827.29,401.7" fill="none" stroke="#8763c7" stroke-width="1.3" stroke-linejoin="round"/>
</g>
<text x="962" y="324.3" font-size="11.5" fill="#131722" textLength="42" lengthAdjust="spacingAndGlyphs" >14500.00</text>
<text x="962" y="295.6" font-size="11.5" fill="#131722" textLength="42" lengthAdjust="spacingAndGlyphs" >15000.00</text>
<text x="962" y="266.90000000000003" font-size="11.5" fill="#131722" textLength="42" lengthAdjust="spacingAndGlyphs" >15500.00</text>
<text x="962" y="238.2" font-size="11.5" fill="#131722" textLength="42" lengthAdjust="spacingAndGlyphs" >16000.00</text>
<text x="962" y="209.5" font-size="11.5" fill="#131722" textLength="42" lengthAdjust="spacingAndGlyphs" >16500.00</text>
<text x="962" y="180.79999999999998" font-size="11.5" fill="#131722" textLength="42" lengthAdjust="spacingAndGlyphs" >17000.00</text>
<text x="962" y="152.1" font-size="11.5" fill="#131722" textLength="42" lengthAdjust="spacingAndGlyphs" >17500.00</text>
<text x="962" y="123.39999999999999" font-size="11.5" fill="#131722" textLength="42" lengthAdjust="spacingAndGlyphs" >18000.00</text>
<text x="962" y="94.69999999999999" font-size="11.5" fill="#131722" textLength="42" lengthAdjust="spacingAndGlyphs" >18500.00</text>
<text x="962" y="66.0" font-size="11.5" fill="#131722" textLength="42" lengthAdjust="spacingAndGlyphs" >19000.00</text>
<text x="962" y="42.8" font-size="11.5" fill="#131722" textLength="19.4" lengthAdjust="spacingAndGlyphs" >USD</text>
<text x="962" y="386.40000000000003" font-size="11.5" fill="#131722" textLength="25.6" lengthAdjust="spacingAndGlyphs" >60.00</text>
<text x="962" y="427.8" font-size="11.5" fill="#131722" textLength="25.6" lengthAdjust="spacingAndGlyphs" >40.00</text>
<clipPath id="c20"><rect x="952" y="440" width="62" height="25"/></clipPath>
<text x="962" y="469.20000000000005" font-size="11.5" fill="#131722" textLength="25.6" lengthAdjust="spacingAndGlyphs" clip-path="url(#c20)">20.00</text>
<rect x="952" y="140.5" width="58.6" height="16" rx="2" fill="#1b5e20"/>
<text x="962" y="152.6" font-size="11.5" fill="#ffffff" textLength="42" lengthAdjust="spacingAndGlyphs" >17500.00</text>
<rect x="952" y="178.8" width="58.6" height="28.5" rx="2" fill="#ef5350"/>
<text x="962" y="191.3" font-size="11.5" fill="#ffffff" textLength="42" lengthAdjust="spacingAndGlyphs" >16832.74</text>
<text x="962" y="203.9" font-size="11.5" fill="#fbd5d4" textLength="25.8" lengthAdjust="spacingAndGlyphs" >48:22</text>
<rect x="952" y="214.6" width="58.6" height="16" rx="2" fill="#f23645"/>
<text x="962" y="226.7" font-size="11.5" fill="#ffffff" textLength="42" lengthAdjust="spacingAndGlyphs" >16200.00</text>
<text x="17.7" y="43.6" font-size="11.5" fill="#131722" textLength="35.3" lengthAdjust="spacingAndGlyphs" >Bitcoin</text>
<text x="58.8" y="43.6" font-size="11.5" fill="#131722" textLength="4.3" lengthAdjust="spacingAndGlyphs" >/</text>
<text x="68" y="43.6" font-size="11.5" fill="#131722" textLength="19.1" lengthAdjust="spacingAndGlyphs" >U.S.</text>
<text x="93" y="43.6" font-size="11.5" fill="#131722" textLength="29.9" lengthAdjust="spacingAndGlyphs" >Dollar,</text>
<text x="126.8" y="43.6" font-size="11.5" fill="#131722" textLength="16.0" lengthAdjust="spacingAndGlyphs" >4h,</text>
<text x="146.7" y="43.6" font-size="11.5" fill="#131722" textLength="49.8" lengthAdjust="spacingAndGlyphs" >COINBASE</text>
<text x="206.1" y="43.6" font-size="11.5" fill="#131722" textLength="6.8" lengthAdjust="spacingAndGlyphs" >O</text>
<text x="214.9" y="43.6" font-size="11.5" fill="#ef5350" textLength="42.3" lengthAdjust="spacingAndGlyphs" >16860.04</text>
<text x="266" y="43.6" font-size="11.5" fill="#131722" textLength="5.8" lengthAdjust="spacingAndGlyphs" >H</text>
<text x="273.8" y="43.6" font-size="11.5" fill="#ef5350" textLength="41.9" lengthAdjust="spacingAndGlyphs" >16864.57</text>
<text x="324.8" y="43.6" font-size="11.5" fill="#131722" textLength="3.6" lengthAdjust="spacingAndGlyphs" >L</text>
<text x="330.8" y="43.6" font-size="11.5" fill="#ef5350" textLength="42.1" lengthAdjust="spacingAndGlyphs" >16824.37</text>
<text x="381.2" y="43.6" font-size="11.5" fill="#131722" textLength="5.7" lengthAdjust="spacingAndGlyphs" >C</text>
<text x="389" y="43.6" font-size="11.5" fill="#ef5350" textLength="42.3" lengthAdjust="spacingAndGlyphs" >16832.74</text>
<text x="438.8" y="43.6" font-size="11.5" fill="#ef5350" textLength="30.7" lengthAdjust="spacingAndGlyphs" >−27.53</text>
<text x="475.8" y="43.6" font-size="11.5" fill="#ef5350" textLength="39.9" lengthAdjust="spacingAndGlyphs" >(−0.16%)</text>
<text x="17.5" y="59.7" font-size="11.5" fill="#131722" textLength="15.6" lengthAdjust="spacingAndGlyphs" >Vol</text>
<text x="43.2" y="59.7" font-size="11.5" fill="#131722" textLength="19.6" lengthAdjust="spacingAndGlyphs" >BTC</text>
<text x="70.9" y="59.7" font-size="11.5" fill="#ef5350" textLength="16.8" lengthAdjust="spacingAndGlyphs" >897</text>
<rect x="37.1" y="54.4" width="2" height="2" fill="#131722"/>
<text x="17.5" y="75.8" font-size="11.5" fill="#131722" textLength="15.6" lengthAdjust="spacingAndGlyphs" >Vol</text>
<text x="43.2" y="75.8" font-size="11.5" fill="#131722" textLength="19.6" lengthAdjust="spacingAndGlyphs" >BTC</text>
<text x="70.9" y="75.8" font-size="11.5" fill="#ef5350" textLength="16.8" lengthAdjust="spacingAndGlyphs" >897</text>
<rect x="37.1" y="70.5" width="2" height="2" fill="#131722"/>
<text x="17.5" y="91.7" font-size="11.5" fill="#131722" textLength="14.4" lengthAdjust="spacingAndGlyphs" >MA</text>
<text x="37.8" y="91.7" font-size="11.5" fill="#131722" textLength="17.5" lengthAdjust="spacingAndGlyphs" >(21,</text>
<text x="60.3" y="91.7" font-size="11.5" fill="#131722" textLength="26.3" lengthAdjust="spacingAndGlyphs" >close,</text>
<text x="94.4" y="91.7" font-size="11.5" fill="#131722" textLength="9.4" lengthAdjust="spacingAndGlyphs" >0)</text>
<text x="113.1" y="91.7" font-size="11.5" fill="#2e7d32" textLength="42.2" lengthAdjust="spacingAndGlyphs" >16833.18</text>
<text x="17.5" y="107.8" font-size="11.5" fill="#131722" textLength="14.4" lengthAdjust="spacingAndGlyphs" >MA</text>
<text x="37.8" y="107.8" font-size="11.5" fill="#131722" textLength="12.0" lengthAdjust="spacingAndGlyphs" >(9,</text>
<text x="55" y="107.8" font-size="11.5" fill="#131722" textLength="26.1" lengthAdjust="spacingAndGlyphs" >close,</text>
<text x="88.9" y="107.8" font-size="11.5" fill="#131722" textLength="9.4" lengthAdjust="spacingAndGlyphs" >0)</text>
<text x="107.2" y="107.8" font-size="11.5" fill="#f23645" textLength="41.9" lengthAdjust="spacingAndGlyphs" >16832.09</text>
<text x="17.7" y="368.2" font-size="11.5" fill="#131722" textLength="16.6" lengthAdjust="spacingAndGlyphs" >RSI</text>
<text x="37.2" y="368.2" font-size="11.5" fill="#131722" textLength="19.0" lengthAdjust="spacingAndGlyphs" >(14,</text>
<text x="59.7" y="368.2" font-size="11.5" fill="#131722" textLength="29.7" lengthAdjust="spacingAndGlyphs" >close,</text>
<text x="94.5" y="368.2" font-size="11.5" fill="#131722" textLength="23.8" lengthAdjust="spacingAndGlyphs" >SMA,</text>
<text x="124.5" y="368.2" font-size="11.5" fill="#131722" textLength="13.3" lengthAdjust="spacingAndGlyphs" >14,</text>
<text x="142.1" y="368.2" font-size="11.5" fill="#131722" textLength="9.0" lengthAdjust="spacingAndGlyphs" >2)</text>
<text x="159.9" y="368.2" font-size="11.5" fill="#8763c7" textLength="25.3" lengthAdjust="spacingAndGlyphs" >50.25</text>
<text x="194.6" y="368.2" font-size="11.5" fill="#f7e04f" textLength="25.2" lengthAdjust="spacingAndGlyphs" >50.73</text>
<ellipse cx="231.9" cy="364.4" rx="2.2" ry="3.2" fill="none" stroke="#111" stroke-width="1.4"/>
<line x1="229.6" y1="369" x2="234.4" y2="359.6" stroke="#111" stroke-width="1.2"/>
<ellipse cx="246.8" cy="364.4" rx="2.2" ry="3.2" fill="none" stroke="#111" stroke-width="1.4"/>
<line x1="244.5" y1="369" x2="249.3" y2="359.6" stroke="#111" stroke-width="1.2"/>
<text x="63.5" y="483" font-size="11.5" fill="#131722" font-weight="bold" text-anchor="middle" >5</text>
<text x="170.25" y="483" font-size="11.5" fill="#131722" text-anchor="middle" >8</text>
<text x="311.5" y="483" font-size="11.5" fill="#131722" font-weight="bold" text-anchor="middle" >12</text>
<text x="419.0" y="483" font-size="11.5" fill="#131722" text-anchor="middle" >15</text>
<text x="560.25" y="483" font-size="11.5" fill="#131722" font-weight="bold" text-anchor="middle" >19</text>
<text x="667.0" y="483" font-size="11.5" fill="#131722" text-anchor="middle" >22</text>
<text x="809.25" y="483" font-size="11.5" fill="#131722" font-weight="bold" text-anchor="middle" >26</text>
<text x="916.0" y="483" font-size="11.5" fill="#131722" text-anchor="middle" >29</text>
<text x="9" y="17.6" font-size="11.5" fill="#333338" textLength="29.2" lengthAdjust="spacingAndGlyphs" >shyna</text>
<text x="44.2" y="17.6" font-size="11.5" fill="#333338" textLength="47.8" lengthAdjust="spacingAndGlyphs" >published</text>
<text x="97.9" y="17.6" font-size="11.5" fill="#333338" textLength="11.0" lengthAdjust="spacingAndGlyphs" >on</text>
<text x="114.5" y="17.6" font-size="11.5" fill="#333338" textLength="88.7" lengthAdjust="spacingAndGlyphs" >TradingView.com,</text>
<text x="209.8" y="17.6" font-size="11.5" fill="#333338" textLength="17.0" lengthAdjust="spacingAndGlyphs" >Dec</text>
<text x="232.4" y="17.6" font-size="11.5" fill="#333338" textLength="13.9" lengthAdjust="spacingAndGlyphs" >26,</text>
<text x="251.7" y="17.6" font-size="11.5" fill="#333338" textLength="22.2" lengthAdjust="spacingAndGlyphs" >2022</text>
<text x="278.9" y="17.6" font-size="11.5" fill="#333338" textLength="24.9" lengthAdjust="spacingAndGlyphs" >15:11</text>
<text x="309.4" y="17.6" font-size="11.5" fill="#333338" textLength="19.3" lengthAdjust="spacingAndGlyphs" >UTC</text>
<g fill="#1e222d"><path d="M9.6,504.3 H17.6 V513.3 H13.1 V507.9 H9.6 Z"/><circle cx="20.6" cy="506" r="1.7"/><path d="M23.3,504.3 H28.1 L24,513.3 H19.6 Z"/></g>
<text x="31.6" y="513.3" font-size="12" fill="#1e222d" textLength="66.8" lengthAdjust="spacingAndGlyphs" >TradingView</text>
<circle cx="827.9" cy="336.2" r="9.2" fill="#ffffff" stroke="#9c27b0" stroke-width="1.5"/>
<path d="M830.4,331.3 L824.2,337.0 L827.5,337.0 L825.6,341.2 L831.8,335.4 L828.5,335.4 Z" fill="#9c27b0"/>
</svg>
</body></html>
